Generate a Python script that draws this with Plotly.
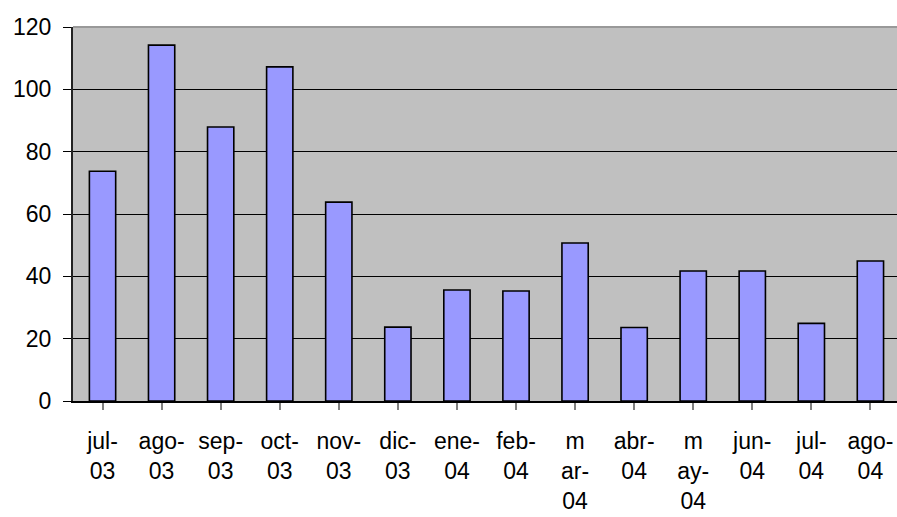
import plotly.graph_objects as go

categories = ["jul-03", "ago-03", "sep-03", "oct-03", "nov-03", "dic-03", "ene-04",
              "feb-04", "mar-04", "abr-04", "may-04", "jun-04", "jul-04", "ago-04"]
tick_labels = ["jul-<br>03", "ago-<br>03", "sep-<br>03", "oct-<br>03", "nov-<br>03",
               "dic-<br>03", "ene-<br>04", "feb-<br>04", "m<br>ar-<br>04", "abr-<br>04",
               "m<br>ay-<br>04", "jun-<br>04", "jul-<br>04", "ago-<br>04"]
values = [73.7, 114.2, 87.9, 107.2, 63.8, 23.7, 35.6, 35.3, 50.7, 23.6, 41.7, 41.7, 24.9, 44.9]
y_ticks = [0, 20, 40, 60, 80, 100, 120]

FONT = "Liberation Sans, Arial, sans-serif"

fig = go.Figure(go.Bar(
    x=list(range(len(categories))),
    y=values,
    marker=dict(color="#9999FF", line=dict(color="#000000", width=1.6)),
    hovertext=categories,
))

fig.update_layout(
    width=897, height=517,
    margin=dict(l=73, r=0, t=27, b=116, autoexpand=False),
    paper_bgcolor="white",
    plot_bgcolor="#C0C0C0",
    bargap=0.555,
    showlegend=False,
    font=dict(family=FONT, size=23, color="black"),
    shapes=[dict(type="line", xref="paper", yref="paper", x0=0, x1=1, y0=1, y1=1,
                 line=dict(color="#999999", width=2))],
)
fig.update_xaxes(
    range=[-0.5, 13.45], automargin=False,
    tickmode="array", tickvals=list(range(len(categories))), ticktext=tick_labels,
    tickson="boundaries", ticks="outside", ticklen=7, tickcolor="#808080", tickwidth=1.5,
    showline=True, linecolor="black", linewidth=1.5,
    showgrid=False, zeroline=False,
    tickfont=dict(family=FONT, size=23, color="black"),
    ticklabelstandoff=12,
)
fig.update_yaxes(
    range=[0, 120], tickvals=y_ticks, automargin=False,
    ticks="outside", ticklen=8, tickcolor="black", tickwidth=1,
    showline=True, linecolor="#222222", linewidth=2,
    showgrid=True, gridcolor="black", gridwidth=1,
    zeroline=False,
    tickfont=dict(family=FONT, size=23, color="black"),
    ticklabelstandoff=7,
)

fig.write_html("out.html", config={"displayModeBar": False},
               post_script="document.body.style.margin='0';")
